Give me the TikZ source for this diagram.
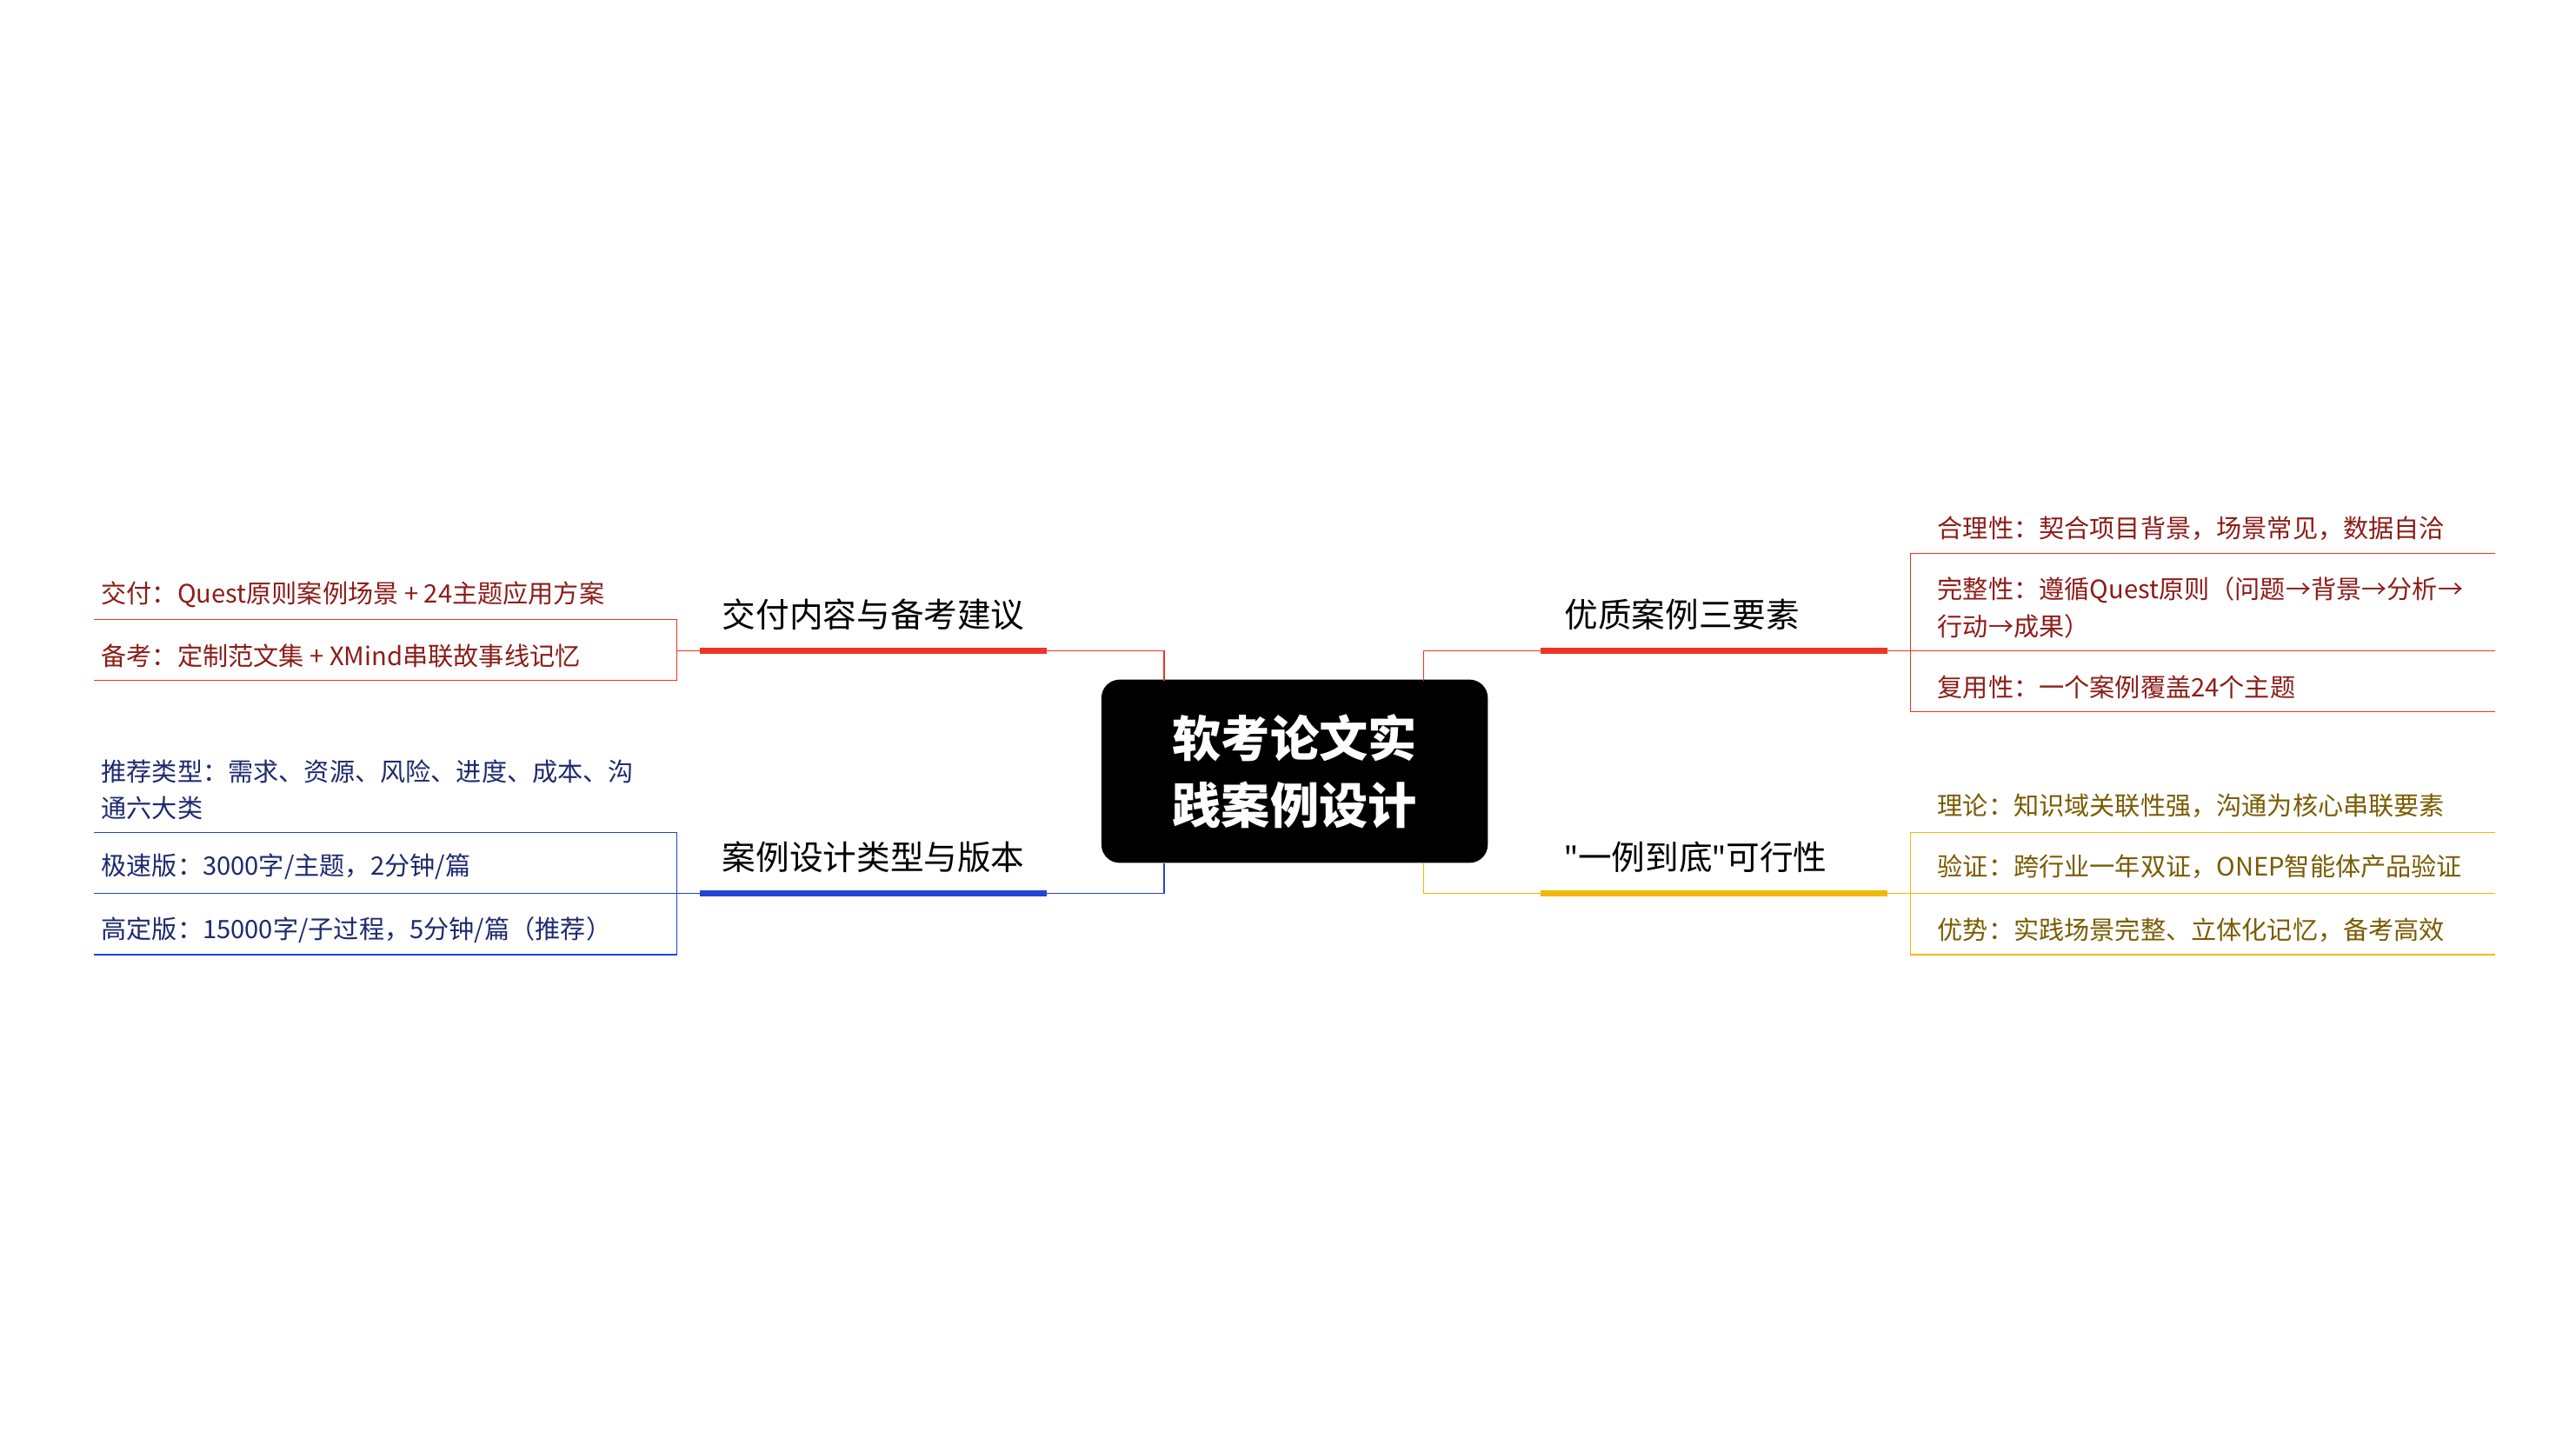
\documentclass[tikz,border=0pt]{standalone}
\usepackage{fontspec}
\setmainfont{Noto Sans CJK SC}
\newfontfamily\latinq{Noto Sans}
\usetikzlibrary{positioning}
\definecolor{redline}{HTML}{EE3424}
\definecolor{blueline}{HTML}{2344D4}
\definecolor{yelline}{HTML}{F2B807}
\definecolor{redtext}{HTML}{8C1D18}
\definecolor{bluetext}{HTML}{1E2A6E}
\definecolor{yeltext}{HTML}{7A5B00}
\newcommand{\dq}{{\latinq\symbol{34}}}
\tikzset{
  branch/.style={anchor=west, inner sep=0pt, font=\fontsize{11}{13}\selectfont},
  leaf/.style={anchor=west, inner sep=0pt, align=left, font=\fontsize{8.3}{12}\selectfont},
}
\begin{document}
\begin{tikzpicture}[x=0.019cm, y=-0.019cm]
\useasboundingbox (0,0) rectangle (1560,879);

% Central topic
\node[fill=black, rounded corners=6pt, minimum width=234*0.019cm, minimum height=111*0.019cm,
      text=white, align=center, font=\fontsize{16}{22}\selectfont\bfseries] (C) at (784,467) {软考论文实\\践案例设计};

% Main branches
\node[branch] (B1) at (947,372) {优质案例三要素};
\node[branch] (B2) at (947,519) {\dq 一例到底\dq 可行性};
\node[branch] (B3) at (437,372) {交付内容与备考建议};
\node[branch] (B4) at (437,519) {案例设计类型与版本};

\coordinate (u1a) at (933,394); \coordinate (u1b) at (1143,394);
\coordinate (u2a) at (933,541); \coordinate (u2b) at (1143,541);
\coordinate (u3a) at (634,394); \coordinate (u3b) at (424,394);
\coordinate (u4a) at (634,541); \coordinate (u4b) at (424,541);

\draw[redline, line width=2.2pt] (u1a) -- (u1b);
\draw[yelline, line width=2.2pt] (u2a) -- (u2b);
\draw[redline, line width=2.2pt] (u3a) -- (u3b);
\draw[blueline, line width=2.2pt] (u4a) -- (u4b);

% Connectors from centre
\draw[redline, thin] (862,412) |- (u1a);
\draw[yelline, thin] (862,523) |- (u2a);
\draw[redline, thin] (705,412) |- (u3a);
\draw[blueline, thin] (705,523) |- (u4a);

% Right red leaves
\node[leaf, text=redtext] (L11) at (1173,320) {合理性：契合项目背景，场景常见，数据自洽};
\node[leaf, text=redtext] (L12) at (1173,368) {完整性：遵循Quest原则（问题→背景→分析→\\行动→成果）};
\node[leaf, text=redtext] (L13) at (1173,416) {复用性：一个案例覆盖24个主题};
\draw[redline, thin] (u1b) -- (1157,394);
\draw[redline, thin] (1511,335) -- (1157,335) -- (1157,431) -- (1511,431);
\draw[redline, thin] (1157,394) -- (1511,394);

% Right yellow leaves
\node[leaf, text=yeltext] (L21) at (1173,488) {理论：知识域关联性强，沟通为核心串联要素};
\node[leaf, text=yeltext] (L22) at (1173,525) {验证：跨行业一年双证，ONEP智能体产品验证};
\node[leaf, text=yeltext] (L23) at (1173,563) {优势：实践场景完整、立体化记忆，备考高效};
\draw[yelline, thin] (u2b) -- (1511,541);
\draw[yelline, thin] (1511,504) -- (1157,504) -- (1157,578) -- (1511,578);

% Left red leaves
\node[leaf, text=redtext] (L31) at (61,360) {交付：Quest原则案例场景 + 24主题应用方案};
\node[leaf, text=redtext] (L32) at (61,397) {备考：定制范文集 + XMind串联故事线记忆};
\draw[redline, thin] (u3b) -- (410,394);
\draw[redline, thin] (57,375) -- (410,375) -- (410,412) -- (57,412);

% Left blue leaves
\node[leaf, text=bluetext] (L41) at (61,478) {推荐类型：需求、资源、风险、进度、成本、沟\\通六大类};
\node[leaf, text=bluetext] (L42) at (61,525) {极速版：3000字/主题，2分钟/篇};
\node[leaf, text=bluetext] (L43) at (61,563) {高定版：15000字/子过程，5分钟/篇（推荐）};
\draw[blueline, thin] (u4b) -- (57,541);
\draw[blueline, thin] (57,504) -- (410,504) -- (410,578) -- (57,578);
\end{tikzpicture}
\end{document}
